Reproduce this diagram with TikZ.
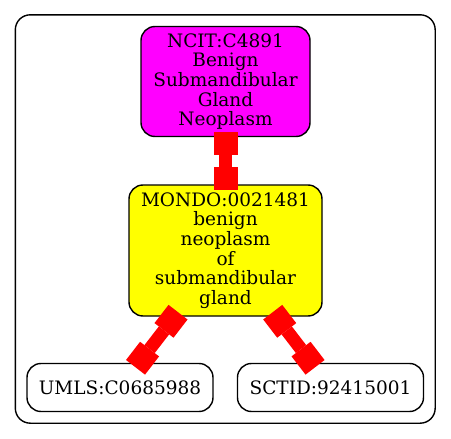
\documentclass[tikz,border=0pt]{standalone}
\usepackage{fontspec}
\setmainfont{DejaVu Serif}
\usetikzlibrary{arrows.meta,positioning,fit}
\definecolor{ncitfill}{RGB}{255,0,255}
\definecolor{mondofill}{RGB}{255,255,0}
\definecolor{linkred}{RGB}{255,0,0}

\begin{document}
\begin{tikzpicture}[x=1pt,y=-1pt,on grid,auto,font=\fontsize{18.5}{19.7}\selectfont]
    \tikzset{term/.style={draw,rectangle,rounded corners=14pt,line width=1.4pt,align=center,inner sep=0pt},
      boxtip/.tip={Rectangle[length=23pt,width=24pt,line width=0pt]},
      link/.style={linkred,line width=13pt,boxtip-boxtip,shorten <=-5.7pt,shorten >=-5.7pt}}
    \useasboundingbox (0,0) rectangle (451,439);
    \node[term,fill=ncitfill,minimum width=169pt,minimum height=110pt] (ncit) at (225.5,81.5) {NCIT:C4891\\Benign\\Submandibular\\Gland\\Neoplasm};
    \node[term,fill=mondofill,minimum width=193pt,minimum height=131pt] (mondo) [below=169pt of ncit] {MONDO:0021481\\benign\\neoplasm\\of\\submandibular\\gland};
    \node[term,minimum width=186pt,minimum height=48pt] (umls) [below left=137pt and 105.5pt of mondo] {UMLS:C0685988};
    \node[term,minimum width=186pt,minimum height=48pt] (sctid) [below right=137pt and 105pt of mondo] {SCTID:92415001};
    \node[draw,rounded corners=15pt,line width=1.4pt,inner sep=11pt,fit=(ncit)(mondo)(umls)(sctid)] (cluster) {};
    \path[link]
    (ncit) edge (mondo)
    (mondo) edge (umls)
    (mondo) edge (sctid)
    ;
\end{tikzpicture}
\end{document}
